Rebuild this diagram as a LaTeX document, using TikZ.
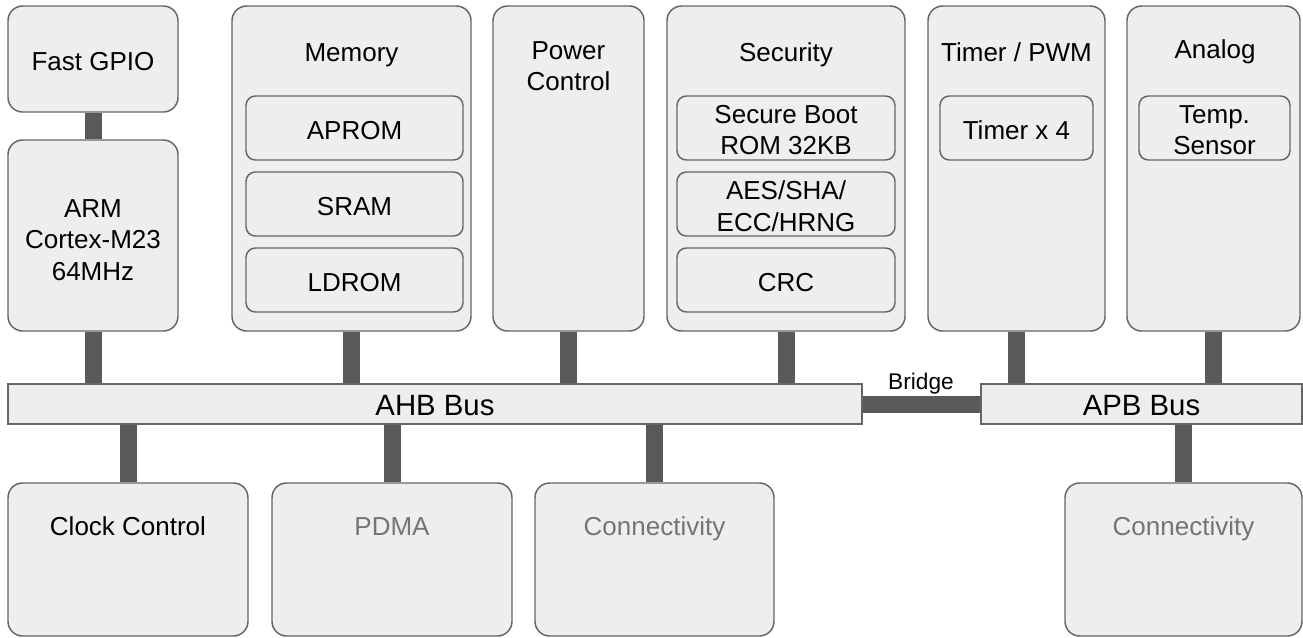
\documentclass[tikz,border=0pt]{standalone}
\usepackage{fontspec}
\setmainfont{Liberation Sans}
\usetikzlibrary{fit,backgrounds}
\definecolor{boxfill}{HTML}{EEEEEE}
\definecolor{boxline}{HTML}{666666}
\definecolor{busbar}{HTML}{595959}
\definecolor{dimtext}{HTML}{757575}
\begin{document}
\begin{tikzpicture}[x=0.75pt,y=-0.75pt,
  block/.style={draw=boxline, fill=boxfill, line width=1.1pt, rounded corners=11pt, inner sep=0pt},
  sub/.style={block, rounded corners=7pt},
  bus/.style={draw=boxline, fill=boxfill, line width=1.1pt, inner sep=0pt},
  link/.style={draw=busbar, line width=12.75pt},
  lbl/.style={font=\fontsize{19.5}{23.5}\selectfont, align=center, inner sep=0pt, yshift=-1.6pt},
  buslbl/.style={font=\fontsize{22}{26}\selectfont, inner sep=0pt, yshift=-1pt},
  dim/.style={lbl, text=dimtext}]
\useasboundingbox (0,0) rectangle (1303,637);

% top row
\node[block, fit={(8,6)(178,112)}]    (gpio)  {};
\node[block, fit={(8,140)(178,331)}]  (arm)   {};
\node[block, fit={(232,6)(471,331)}]  (mem)   {};
\node[sub,   fit={(246,96)(463,160)}] (aprom) {};
\node[sub,   fit={(246,172)(463,236)}](sram)  {};
\node[sub,   fit={(246,248)(463,312)}](ldrom) {};
\node[block, fit={(493,6)(644,331)}]  (pwr)   {};
\node[block, fit={(667,6)(905,331)}]  (sec)   {};
\node[sub,   fit={(677,96)(895,160)}] (boot)  {};
\node[sub,   fit={(677,172)(895,236)}](crypto){};
\node[sub,   fit={(677,248)(895,312)}](crc)   {};
\node[block, fit={(928,6)(1105,331)}] (tmr)   {};
\node[sub,   fit={(940,96)(1093,160)}](tmr4)  {};
\node[block, fit={(1127,6)(1300,331)}](ana)   {};
\node[sub,   fit={(1139,96)(1290,160)}](temp) {};

% buses
\node[bus, fit={(8,384)(862,424)}]    (ahb) {};
\node[bus, fit={(981,384)(1302,424)}] (apb) {};

% bottom row
\node[block, fit={(8,483)(248,636)}]    (clk)   {};
\node[block, fit={(272,483)(512,636)}]  (pdma)  {};
\node[block, fit={(535,483)(774,636)}]  (conn1) {};
\node[block, fit={(1065,483)(1302,636)}](conn2) {};

% bus links
\begin{pgfonlayer}{background}
\draw[link] (gpio.south) -- (arm.north);
\foreach \n in {arm,mem,pwr,sec}
  \draw[link] (\n.south) -- (\n.south |- ahb.north);
\foreach \n in {tmr,ana}
  \draw[link] (\n.south) -- (\n.south |- apb.north);
\foreach \n in {clk,pdma,conn1}
  \draw[link] (\n.north) -- (\n.north |- ahb.south);
\draw[link] (conn2.north) -- (conn2.north |- apb.south);
\draw[link] (ahb.east) -- (apb.west);
\end{pgfonlayer}

% labels
\node[lbl] (tgpio) at (gpio.center) {Fast GPIO};
\node[lbl] (tarm)  at (93,238) {ARM\\Cortex-M23\\64MHz};
\node[lbl] (tmem)  at (351.5,53) {Memory};
\node[lbl] at (aprom.center) {APROM};
\node[lbl] at (sram.center)  {SRAM};
\node[lbl] at (ldrom.center) {LDROM};
\node[lbl] (tpwr) at (568.5,64) {Power\\Control};
\node[lbl] (tsec) at (786,53) {Security};
\node[lbl] at (boot.center)   {Secure Boot\\ROM 32KB};
\node[lbl] at (crypto.center) {AES/SHA/\\ECC/HRNG};
\node[lbl] at (crc.center)    {CRC};
\node[lbl] (ttmr) at (1016.5,50) {Timer / PWM};
\node[lbl] at (tmr4.center) {Timer x 4};
\node[lbl] (tana) at (1215,50) {Analog};
\node[lbl] at (temp.center) {Temp.\\Sensor};
\node[buslbl] at (ahb.center) {AHB Bus};
\node[buslbl] at (apb.center) {APB Bus};
\node[font=\fontsize{17}{20}\selectfont, inner sep=0pt] (tbr) at (921,384) {Bridge};
\node[lbl, anchor=base] (tclk) at (128,533) {Clock Control};
\node[dim, anchor=base] (tpdma) at (392,533) {PDMA};
\node[dim, anchor=base] (tc1) at (654.5,533) {Connectivity};
\node[dim, anchor=base] (tc2) at (1183.5,533) {Connectivity};
\end{tikzpicture}
\end{document}
